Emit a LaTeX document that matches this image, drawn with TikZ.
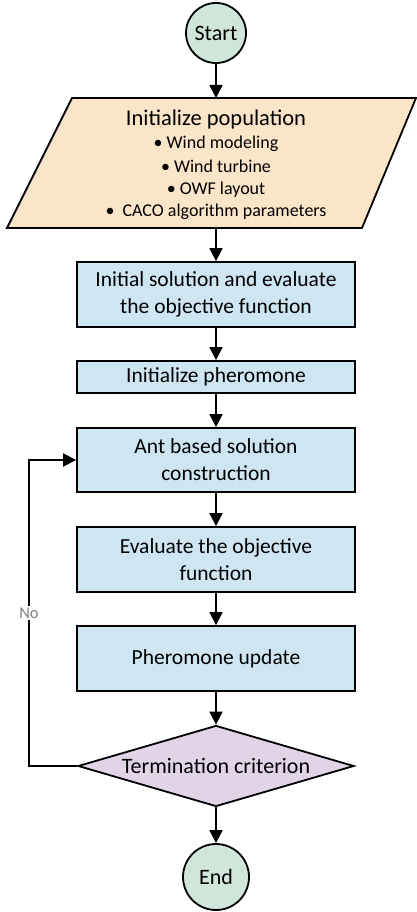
\documentclass[tikz,border=0pt]{standalone}
\usepackage{fontspec}
\setmainfont{Carlito}
\usetikzlibrary{arrows.meta,shapes.geometric}
\definecolor{termgreen}{HTML}{D0E6DB}
\definecolor{popfill}{HTML}{FBE5C9}
\definecolor{boxblue}{HTML}{CEE5F2}
\definecolor{diafill}{HTML}{E1D4E7}
\begin{document}
\begin{tikzpicture}[x=1pt,y=-1pt,
  line width=1.8pt,
  arr/.style={-{Triangle[width=13pt,length=13pt]}},
  box/.style={draw, fill=boxblue, minimum width=278pt, align=center, font=\fontsize{21.5}{27}\selectfont, inner sep=0pt},
  term/.style={draw, circle, fill=termgreen, font=\fontsize{22}{24}\selectfont, inner sep=0pt},
  bullet/.style={font=\fontsize{18}{20}\selectfont, inner sep=0pt, anchor=base},
]
\useasboundingbox (0,0) rectangle (417,912);
\node[term, minimum size=60pt] (start) at (216,33) {Start};
% parallelogram
\draw[fill=popfill] (72,98) -- (416,98) -- (362,228) -- (7,228) -- cycle;
\coordinate (ptop) at (216,98);
\coordinate (pbot) at (216,228);
\node[font=\fontsize{22.5}{24}\selectfont, inner sep=0pt, anchor=base] (poptitle) at (216,126) {Initialize population};
\node[bullet] (bl1) at (216,149) {• Wind modeling};
\node[bullet] (bl2) at (216,172) {• Wind turbine};
\node[bullet] (bl3) at (216,194) {• OWF layout};
\node[bullet] (bl4) at (216,216) {•\ \ CACO algorithm parameters};
\node[box, minimum height=65pt] (b1) at (216,294.5) {Initial solution and evaluate\\the objective function};
\node[box, minimum height=32pt] (b2) at (216,377) {Initialize pheromone};
\node[box, minimum height=64pt] (b3) at (216,460) {Ant based solution\\construction};
\node[box, minimum height=65pt] (b4) at (216,559.5) {Evaluate the objective\\function};
\node[box, minimum height=65pt] (b5) at (216,658.5) {Pheromone update};
\node[draw, diamond, aspect=3.4, fill=diafill, minimum width=276pt, minimum height=81pt, inner sep=0pt, font=\fontsize{22}{24}\selectfont] (dia) at (216,766) {Termination criterion};
\node[term, minimum size=66pt] (end) at (216,877) {End};
\draw[arr] (start) -- (ptop);
\draw[arr] (pbot) -- (b1);
\draw[arr] (b1) -- (b2);
\draw[arr] (b2) -- (b3);
\draw[arr] (b3) -- (b4);
\draw[arr] (b4) -- (b5);
\draw[arr] (b5) -- (dia);
\draw[arr] (dia) -- (end);
\coordinate (loop) at (29,460);
\draw[arr] (dia.west) -| (loop) -- (b3.west);
\node[fill=white, text=gray, font=\fontsize{16.5}{18}\selectfont, inner sep=2pt] (no) at (29,613) {No};
\end{tikzpicture}
\end{document}
